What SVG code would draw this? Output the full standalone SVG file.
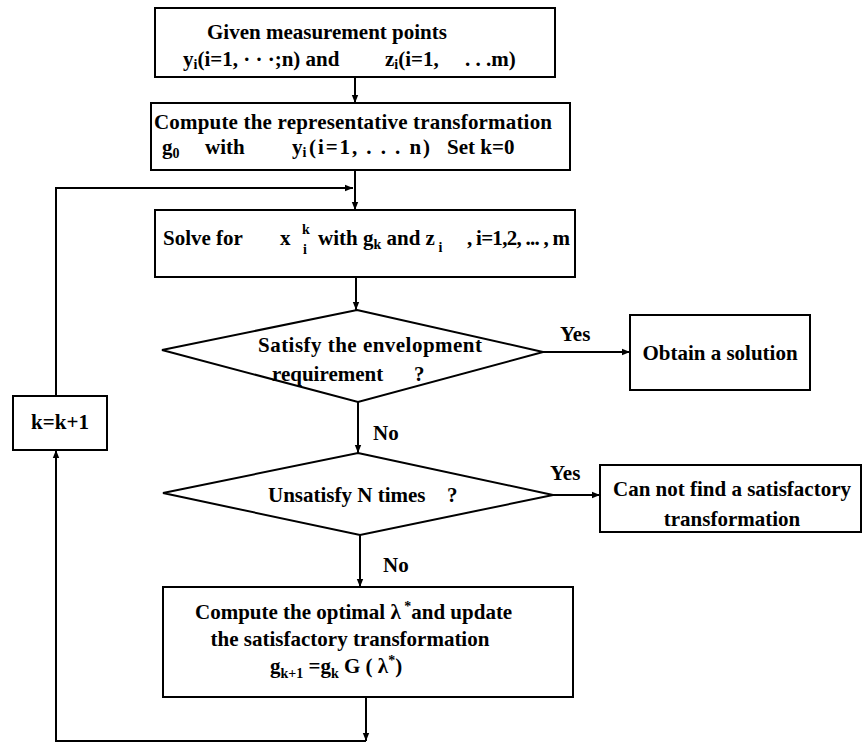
<svg xmlns="http://www.w3.org/2000/svg" width="863" height="743" viewBox="0 0 863 743">
<defs>
<marker id="ah" viewBox="0 0 10 10" refX="10" refY="5" markerWidth="8" markerHeight="8" markerUnits="userSpaceOnUse" orient="auto">
<path d="M0,1 L10,5 L0,9 z" fill="#000"/>
</marker>
</defs>
<style>
.b{fill:#fff;stroke:#000;stroke-width:2}
.c{fill:none;stroke:#000;stroke-width:2}
text{font-family:"Liberation Serif","Times New Roman",serif;font-weight:bold;font-size:21px;fill:#000}
.s{font-size:14px}
</style>
<rect width="863" height="743" fill="#fff"/>
<g id="connectors">
<path class="c" d="M355,77 V103" marker-end="url(#ah)"/>
<path class="c" d="M355,170 V210" marker-end="url(#ah)"/>
<path class="c" d="M56,396 V188 H353" marker-end="url(#ah)"/>
<path class="c" d="M356,277 V310" marker-end="url(#ah)"/>
<path class="c" d="M543,352 H630" marker-end="url(#ah)"/>
<path class="c" d="M358,402 V453" marker-end="url(#ah)"/>
<path class="c" d="M553,495 H600" marker-end="url(#ah)"/>
<path class="c" d="M360,535 V587" marker-end="url(#ah)"/>
<path class="c" d="M366,697 V741" marker-end="url(#ah)"/>
<path class="c" d="M366,741 H56 V450" marker-end="url(#ah)"/>
<text x="560" y="341">Yes</text>
<text x="373" y="440">No</text>
<text x="550" y="480">Yes</text>
<text x="383" y="572">No</text>
</g>
<g id="given">
<rect class="b" x="155" y="8" width="400" height="69"/>
<text x="207" y="39">Given measurement points</text>
<text y="66"><tspan x="183">y</tspan><tspan class="s" dy="3">i</tspan><tspan dy="-3">(i=1, · · ·;n) and</tspan><tspan x="385">z</tspan><tspan class="s" dy="3">i</tspan><tspan dy="-3">(i=1,</tspan><tspan x="465">. . .m)</tspan></text>
</g>
<g id="compute-rep">
<rect class="b" x="151" y="103" width="419" height="67"/>
<text x="154" y="129" textLength="398">Compute the representative transformation</text>
<text y="154"><tspan x="162">g</tspan><tspan class="s" dy="4">0</tspan><tspan dy="-4" x="205">with</tspan><tspan x="292">y</tspan><tspan class="s" dy="3">i</tspan></text>
<text x="309" y="154" textLength="121">(i=1, . . . n)</text>
<text x="447" y="154">Set k=0</text>
</g>
<g id="solve">
<rect class="b" x="155" y="210" width="420" height="67"/>
<text y="245"><tspan x="163">Solve for</tspan><tspan x="280">x</tspan><tspan class="s" x="302" y="234">k</tspan><tspan class="s" x="303" y="254">i</tspan><tspan x="318" y="245">with g</tspan><tspan class="s" y="249">k</tspan><tspan y="245"> and z</tspan><tspan class="s" y="252"> i</tspan></text>
<text x="467" y="245" textLength="103">, i=1,2, ... , m</text>
</g>
<g id="satisfy">
<polygon class="b" points="357,310 543,352 358,402 162,350"/>
<text x="258" y="352" textLength="224">Satisfy the envelopment</text>
<text x="272" y="381">requirement</text>
<text x="414" y="381">?</text>
</g>
<g id="obtain">
<rect class="b" x="630" y="315" width="180" height="75"/>
<text x="720" y="360" text-anchor="middle">Obtain a solution</text>
</g>
<g id="increment">
<rect class="b" x="13" y="396" width="94" height="54"/>
<text x="60" y="429" text-anchor="middle">k=k+1</text>
</g>
<g id="unsatisfy">
<polygon class="b" points="358,453 553,495 360,535 163,493"/>
<text x="268" y="502">Unsatisfy N times</text>
<text x="447" y="502">?</text>
</g>
<g id="fail">
<rect class="b" x="600" y="465" width="261" height="67"/>
<text x="732" y="496" text-anchor="middle">Can not find a satisfactory</text>
<text x="732" y="526" text-anchor="middle">transformation</text>
</g>
<g id="optimal">
<rect class="b" x="163" y="587" width="410" height="110"/>
<text y="619"><tspan x="195">Compute the optimal λ</tspan><tspan class="s" dy="-8"> *</tspan><tspan dy="8">and update</tspan></text>
<text x="350" y="646" text-anchor="middle">the satisfactory transformation</text>
<text y="673"><tspan x="270">g</tspan><tspan class="s" dy="5">k+1</tspan><tspan dy="-5"> =g</tspan><tspan class="s" dy="5">k</tspan><tspan dy="-5"> G (  λ</tspan><tspan class="s" dy="-8">*</tspan><tspan dy="8">)</tspan></text>
</g>
</svg>
